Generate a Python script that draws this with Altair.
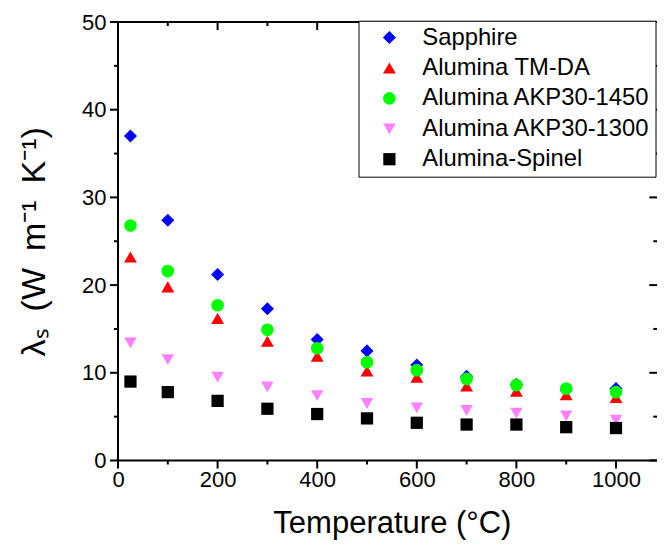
import altair as alt
import pandas as pd

# ---- data ----
temps = [25, 100, 200, 300, 400, 500, 600, 700, 800, 900, 1000]
series_names = ["Sapphire", "Alumina TM-DA", "Alumina AKP30-1450",
                "Alumina AKP30-1300", "Alumina-Spinel"]
sapphire = [37.0, 27.4, 21.2, 17.3, 13.8, 12.5, 10.9, 9.6, 8.7, 8.0, 8.2]
tmda = [23.2, 19.8, 16.2, 13.6, 11.9, 10.2, 9.5, 8.5, 7.9, 7.5, 7.2]
akp1450 = [26.8, 21.6, 17.7, 14.9, 12.8, 11.2, 10.3, 9.3, 8.6, 8.2, 7.8]
akp1300 = [13.4, 11.5, 9.5, 8.4, 7.4, 6.5, 6.0, 5.7, 5.4, 5.1, 4.6]
spinel = [9.0, 7.8, 6.8, 5.9, 5.3, 4.8, 4.3, 4.1, 4.1, 3.8, 3.7]

x_major = [0, 200, 400, 600, 800, 1000]
x_minor = [100, 300, 500, 700, 900]
y_major = [0, 10, 20, 30, 40, 50]
y_minor = [5, 15, 25, 35, 45]

colors = ["#0000FF", "#FF0000", "#00FF00", "#FF80FF", "#000000"]
shapes = ["diamond", "triangle-up", "circle", "triangle-down", "square"]
sizes = [170, 150, 125, 150, 110]

rows = []
for name, vals in zip(series_names, [sapphire, tmda, akp1450, akp1300, spinel]):
    for t, v in zip(temps, vals):
        rows.append({"T": t, "k": v, "series": name})
df = pd.DataFrame(rows)

FONT = "Liberation Sans"
W, H = 547.8, 438.5
RIGHT_VISIBLE = 539.3  # last visible plot column inside the page
xscale = alt.Scale(domain=[0, 1100], nice=False, zero=False)
yscale = alt.Scale(domain=[0, 50], nice=False, zero=False)

main = alt.Chart(df).mark_point(filled=True, opacity=1, strokeWidth=0).encode(
    x=alt.X("T:Q", scale=xscale, axis=alt.Axis(
        values=x_major, orient="bottom", ticks=False, format="d",
        labelFont=FONT, labelFontSize=22, labelColor="black", labelPadding=9,
        labelFlush=False, domain=False, grid=False,
        title="Temperature (°C)", titleFont=FONT, titleFontSize=31,
        titleFontWeight="normal", titleColor="black", titlePadding=18)),
    y=alt.Y("k:Q", scale=yscale, axis=alt.Axis(
        values=y_major, orient="left", ticks=False, format="d",
        labelFont=FONT, labelFontSize=22, labelColor="black", labelPadding=12,
        labelFlush=False, domain=False, grid=False,
        title="λₛ\u2002(W\u2002m⁻¹\u2002K⁻¹)", titleFont=FONT, titleFontSize=34,
        titleFontWeight="normal", titleColor="black", titlePadding=30)),
    color=alt.Color("series:N", scale=alt.Scale(domain=series_names, range=colors),
                    legend=alt.Legend(
                        orient="none", legendX=240.5, legendY=-1.3, title=None,
                        strokeColor="black", fillColor="white", padding=5,
                        labelFont=FONT, labelFontSize=23.8, labelColor="black",
                        rowPadding=5.4, symbolOffset=14, labelOffset=21,
                        labelLimit=400)),
    shape=alt.Shape("series:N", scale=alt.Scale(domain=series_names, range=shapes)),
    size=alt.Size("series:N", scale=alt.Scale(domain=series_names, range=sizes)),
)


def xticks(vals, length, ycenter):
    return alt.Chart(pd.DataFrame({"T": vals})).mark_tick(
        orient="vertical", size=length, thickness=2, color="black", opacity=1
    ).encode(x=alt.X("T:Q", scale=xscale), y=alt.value(ycenter))


def yticks(vals, length, xcenter):
    return alt.Chart(pd.DataFrame({"k": vals})).mark_tick(
        orient="horizontal", size=length, thickness=2, color="black", opacity=1
    ).encode(y=alt.Y("k:Q", scale=yscale), x=alt.value(xcenter))


tick_layers = [
    xticks(x_major, 8, H + 4), xticks(x_minor, 4, H + 2),
    xticks(x_major, 8, 4), xticks(x_minor, 4, 2),
    yticks(y_major, 8, -4), yticks(y_minor, 4, -2),
    yticks(y_major, 8, RIGHT_VISIBLE - 4), yticks(y_minor, 4, RIGHT_VISIBLE - 2),
]

chart = alt.layer(main, *tick_layers).properties(
    width=W, height=H,
    autosize=alt.AutoSizeParams(type="none"),
    padding={"left": 110, "top": 14, "right": -8.8, "bottom": 85},
).configure_view(stroke="black", strokeWidth=2)

chart.save("out.html", embed_options={"renderer": "svg", "actions": False})
